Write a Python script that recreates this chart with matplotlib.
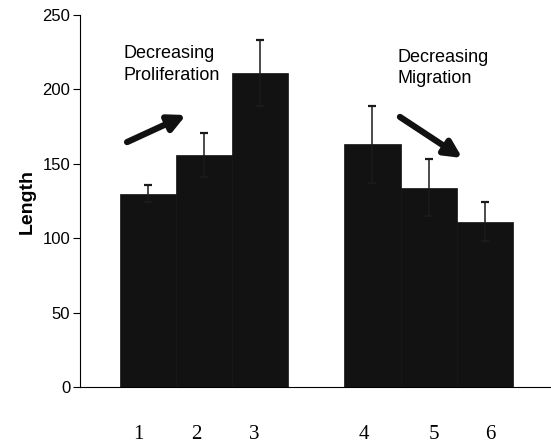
import matplotlib.pyplot as plt

# bar data
groups = ['1', '2', '3', '4', '5', '6']
pos = [0, 1, 2, 4, 5, 6]
length = [130, 156, 211, 163, 134, 111]
err = [6, 15, 22, 26, 19, 13]

plt.rcParams['font.family'] = ['Liberation Sans', 'DejaVu Sans']

fig = plt.figure(figsize=(5.51, 4.43), dpi=100)
ax = fig.add_axes([0.145, 0.1264, 0.855, 0.8397])

ax.bar(pos, length, width=1.0, color='#121212', edgecolor='#121212', linewidth=0.5)
ax.errorbar(pos, length, yerr=err, fmt='none', ecolor='#1a1a1a',
            elinewidth=1.1, capsize=3, capthick=1.6)

ax.set_xlim(-1.21, 7.18)
ax.set_ylim(0, 250)
ax.set_yticks([0, 50, 100, 150, 200, 250])
ax.tick_params(axis='y', direction='out', length=5, width=0.8, labelsize=12, pad=2)

# tick labels sit a little off the bar centres in the original
shift = [-0.16, -0.13, -0.11, -0.15, 0.10, 0.10]
ax.set_xticks([p + s for p, s in zip(pos, shift)])
ax.set_xticklabels(groups, family=['Liberation Serif', 'DejaVu Serif'], fontsize=15)
ax.tick_params(axis='x', length=0, pad=27)

for s in ['top', 'right']:
    ax.spines[s].set_visible(False)
ax.spines['left'].set_linewidth(0.8)
ax.spines['bottom'].set_linewidth(0.8)

ax.set_ylabel('Length', fontsize=14, fontweight='bold', labelpad=5)

ax.text(-0.43, 221, 'Decreasing', fontsize=13, va='baseline', ha='left')
ax.text(-0.43, 206.3, 'Proliferation', fontsize=13, va='baseline', ha='left')
ax.text(4.44, 218.4, 'Decreasing', fontsize=13, va='baseline', ha='left')
ax.text(4.44, 204.3, 'Migration', fontsize=13, va='baseline', ha='left')

arrow = dict(arrowstyle='-|>,head_length=1.0,head_width=0.5',
             lw=4.5, color='#111111', shrinkA=0, shrinkB=0)
ax.annotate('', xy=(0.68, 182.8), xytext=(-0.37, 164.6), arrowprops=arrow)
ax.annotate('', xy=(5.60, 153.9), xytext=(4.49, 181.5), arrowprops=arrow)

fig.savefig('out.png', dpi=100)
